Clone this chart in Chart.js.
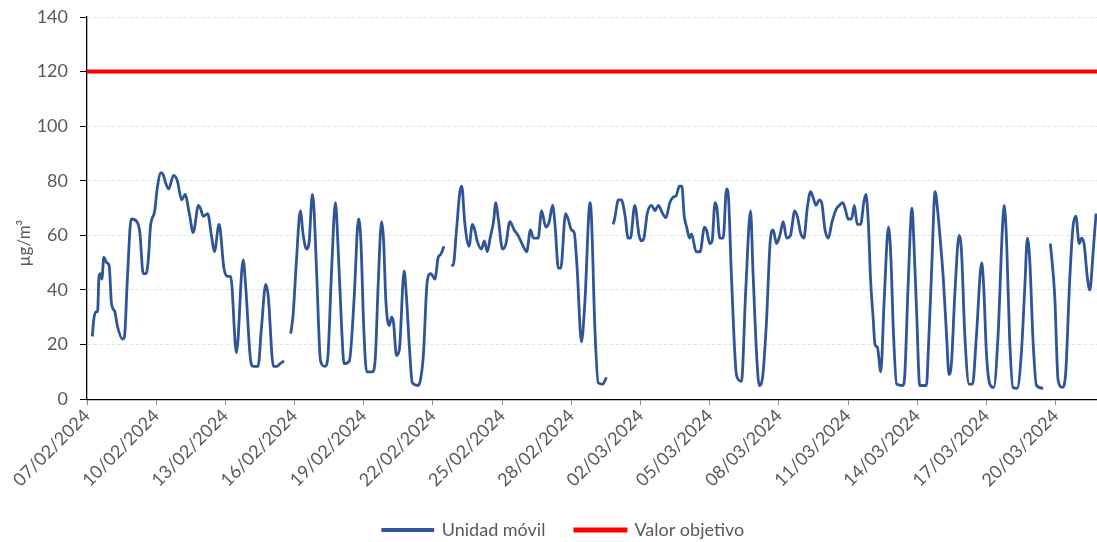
<!DOCTYPE html>
<html>
<head>
<meta charset="utf-8">
<script src="https://cdn.jsdelivr.net/npm/chart.js@4/dist/chart.umd.min.js"></script>
<style>
  html, body { margin: 0; padding: 0; background: #fff; }
  #wrap { width: 1097px; height: 542px; }
</style>
</head>
<body>
<div id="wrap"><canvas id="myChart"></canvas></div>
<script>
/* ---------------- datos ---------------- */
// horas desde 07/02/2024 00:00 (null = sin datos)
const horas = [
  5.5, 7, 9, 11, 12.5, 14, 15.5, 17.5, 20.5, 23, 25.5, 29, 31.5, 37, 39, 42, 46, 52, 55, 58.5,
  61.5, 64, 66, 70.5, 73, 77, 79.5, 82, 85, 90, 94, 98.5, 102, 106.5, 110.5, 116, 118, 121, 125.5, 129.5,
  132.5, 137.5, 142.5, 146.5, 149.5, 155.5, 162.5, 165, 170, 173, 178, 181.5, 186, 188.5, 194, 197.5, 201, 205,
  208,
  212, 214.5, 218, 222, 225, 228.5, 231, 234.5, 236, 239, 243, 247.5, 250.5, 254.5, 258.5, 261.5, 265, 267.5,
  273, 278, 282.5, 285, 288, 291, 297, 300, 303, 306.5, 308.5, 311, 314.5, 317, 319, 322, 325, 330, 332.5,
  335.5, 338.5, 344.5, 347, 350, 354, 357.5, 360, 362, 365.5, 368, 371.5,
  375,
  379, 381, 384.5, 388, 390, 393, 397.5, 401, 403.5, 406, 410.5, 413.5, 416.5, 419.5, 423, 425.5, 428, 432.5,
  436, 440, 444.5, 448.5, 454, 457.5, 461.5, 464.5, 469.5, 473, 477.5, 481, 484.5, 487, 490.5, 493, 498, 501.5,
  504, 507, 510, 514.5, 518, 523.5, 525, 528.5, 532, 536.5, 540.5,
  544,
  547.5, 549, 553, 556, 560, 563, 565.5, 570, 574.5, 577, 579.5, 583, 587.5, 591, 594.5, 599, 602.5, 606.5,
  610, 613, 616.5, 619, 621.5, 624, 627, 629, 634, 638, 642.5, 645, 648, 650.5, 653.5, 655.5, 658.5, 662,
  665.5, 667.5, 670.5, 676, 681, 685.5, 690.5, 693, 697, 699.5, 703, 707, 711, 714, 717.5, 721, 724.5, 728,
  732, 736.5, 739.5, 742.5, 746, 749.5, 753, 755.5, 758.5, 762, 764.5, 768, 771.5, 775, 779.5, 783, 786.5,
  789.5, 792, 795.5, 798.5, 801.5, 805, 808.5, 810.5, 813, 815.5, 818, 820, 822.5, 826, 829.5, 834, 836.5,
  839, 842.5, 849, 851, 854.5, 858.5, 860.5, 863.5, 866.5, 873.5, 875.5, 879, 882.5, 885.5, 887.5, 891,
  894.5, 897, 899.5, 903, 907.5, 910, 913.5, 918, 921.5, 925.5, 931, 933, 936, 939.5, 943.5, 948, 952.5,
  954.5, 957, 960, 963.5, 968, 972.5, 976, 978.5, 981, 984.5, 988, 995,
  999,
  1002.5, 1007, 1010.5, 1015, 1018.5, 1022.5, 1026, 1029, 1032.5, 1035, 1037.5, 1041, 1043.5, 1047, 1050
];
const unidadMovil = [
  23, 29, 32, 32, 45, 46, 44, 52, 50, 49, 35, 32, 27, 22, 23, 44, 66, 65, 61, 46,
  46, 52, 63, 69, 77, 83, 82, 79, 77, 82, 80, 73, 75, 68, 61, 71, 70, 67, 68, 60,
  54, 64, 48, 45, 45, 17, 51, 42, 15, 12, 12, 26, 42, 38, 12, 12, 13, 14,
  null,
  24, 31, 51, 69, 60, 55, 57, 75, 71, 46, 14, 12, 15, 47, 72, 54, 26, 13,
  14, 37, 66, 58, 26, 10, 10, 15, 42, 65, 59, 36, 27, 30, 28, 16, 18, 47, 37,
  19, 6, 5, 7, 16, 43, 46, 45, 44, 52, 53, 56,
  null,
  49, 49, 62, 76, 78, 65, 56, 64, 62, 58, 55, 58, 54, 59, 65, 72, 66, 55,
  57, 65, 62, 60, 56, 54, 62, 59, 59, 69, 63, 65, 71, 64, 48, 48, 68, 65,
  62, 61, 48, 21, 35, 72, 66, 26, 6, 5.5, 8,
  null,
  64, 66, 73, 73, 67, 59, 59, 71, 60, 58, 59, 68, 71, 69, 71, 68, 66.5, 72,
  74, 74.5, 78, 78, 67, 63, 59, 60.5, 54, 54, 63, 61.5, 57, 58, 72, 70, 59, 59,
  77, 74, 46, 8.5, 6.5, 40, 69, 47, 15, 5, 8, 28, 58, 62, 57, 60, 65, 59,
  60, 69, 66.5, 61, 59, 70, 76, 74, 71, 73, 72, 62, 59, 64.5, 69.5, 71, 72,
  69, 66, 66, 71, 64, 64, 72.5, 75, 65, 43, 30, 20, 19, 10, 36, 63, 52,
  26, 5.5, 5, 9, 42, 70, 57, 30, 5, 5, 18, 48, 76, 68, 60, 44.5,
  23, 9, 13, 38, 60, 54, 23, 5.5, 5.5, 23, 50, 42, 16.5, 5.5, 4.3, 23, 62,
  71, 57, 23, 4.3, 4, 18, 42, 59, 51, 21, 5, 4,
  null,
  57, 38, 7, 4.3, 10, 43, 63, 67, 57, 59, 57, 44.5, 40, 54, 68
];
const valorObjetivo = 120;
const horaMax = 1051;
const etiquetasX = [
  '07/02/2024', '10/02/2024', '13/02/2024', '16/02/2024', '19/02/2024',
  '22/02/2024', '25/02/2024', '28/02/2024', '02/03/2024', '05/03/2024',
  '08/03/2024', '11/03/2024', '14/03/2024', '17/03/2024', '20/03/2024'
];
const tituloY = 'µg/m³';

/* ---------------- grafico ---------------- */
const gris = '#595959';
const fuente = { family: 'Lato', size: 18 };

const puntos = horas.map((h, i) => ({ x: h, y: unidadMovil[i] }));

const data = {
  datasets: [{
    label: 'Unidad móvil',
    data: puntos,
    borderColor: '#2f5597',
    backgroundColor: '#2f5597',
    borderWidth: 2.8,
    pointRadius: 0,
    cubicInterpolationMode: 'monotone',
    spanGaps: false
  }, {
    label: 'Valor objetivo',
    data: [{ x: 0, y: valorObjetivo }, { x: horaMax, y: valorObjetivo }],
    borderColor: '#ff0000',
    backgroundColor: '#ff0000',
    borderWidth: 4,
    pointRadius: 0
  }]
};

// la leyenda va un poco a la derecha del centro, como en el original
const moverLeyenda = {
  id: 'moverLeyenda',
  afterLayout(chart) {
    chart.legend.left += 8;
    chart.legend.right += 8;
  }
};

// titulo del eje Y, algo por debajo del centro del eje
const tituloEjeY = {
  id: 'tituloEjeY',
  afterDraw(chart) {
    const { ctx, chartArea } = chart;
    ctx.save();
    ctx.translate(25, (chartArea.top + chartArea.bottom) / 2 + 35);
    ctx.rotate(-Math.PI / 2);
    ctx.fillStyle = gris;
    ctx.font = '17px Lato';
    ctx.textAlign = 'center';
    ctx.textBaseline = 'middle';
    ctx.fillText(tituloY, 0, 0);
    ctx.restore();
  }
};

const config = {
  type: 'line',
  data: data,
  plugins: [moverLeyenda, tituloEjeY],
  options: {
    responsive: true,
    maintainAspectRatio: false,
    animation: false,
    layout: { padding: { left: 14, right: 0, top: 0, bottom: -7 } },
    plugins: {
      tooltip: { enabled: false },
      legend: {
        position: 'bottom',
        labels: {
          color: gris,
          font: fuente,
          boxWidth: 50,
          boxHeight: 1,
          padding: 30
        }
      }
    },
    scales: {
      x: {
        type: 'linear',
        min: 0,
        max: horaMax,
        afterBuildTicks: (scale) => {
          scale.ticks = etiquetasX.map((_, i) => ({ value: i * 72 }));
        },
        ticks: {
          color: gris,
          font: fuente,
          minRotation: 45,
          maxRotation: 45,
          padding: 0,
          autoSkip: false,
          callback: (v) => etiquetasX[Math.round(v / 72)]
        },
        grid: { drawOnChartArea: false, tickLength: 6, tickColor: '#8c8c8c' },
        border: { color: '#000', width: 1.3 }
      },
      y: {
        min: 0,
        max: 140,
        afterFit: (scale) => {
          scale.width = 73;
          scale.paddingTop = 17;
        },
        ticks: { stepSize: 20, color: gris, font: fuente, padding: 12 },
        grid: { color: '#dce6f2', tickColor: '#000', tickLength: 7 },
        border: { color: '#000', width: 1.3, dash: [4, 2] }
      }
    }
  }
};

const myChart = new Chart(document.getElementById('myChart'), config);
</script>
</body>
</html>
